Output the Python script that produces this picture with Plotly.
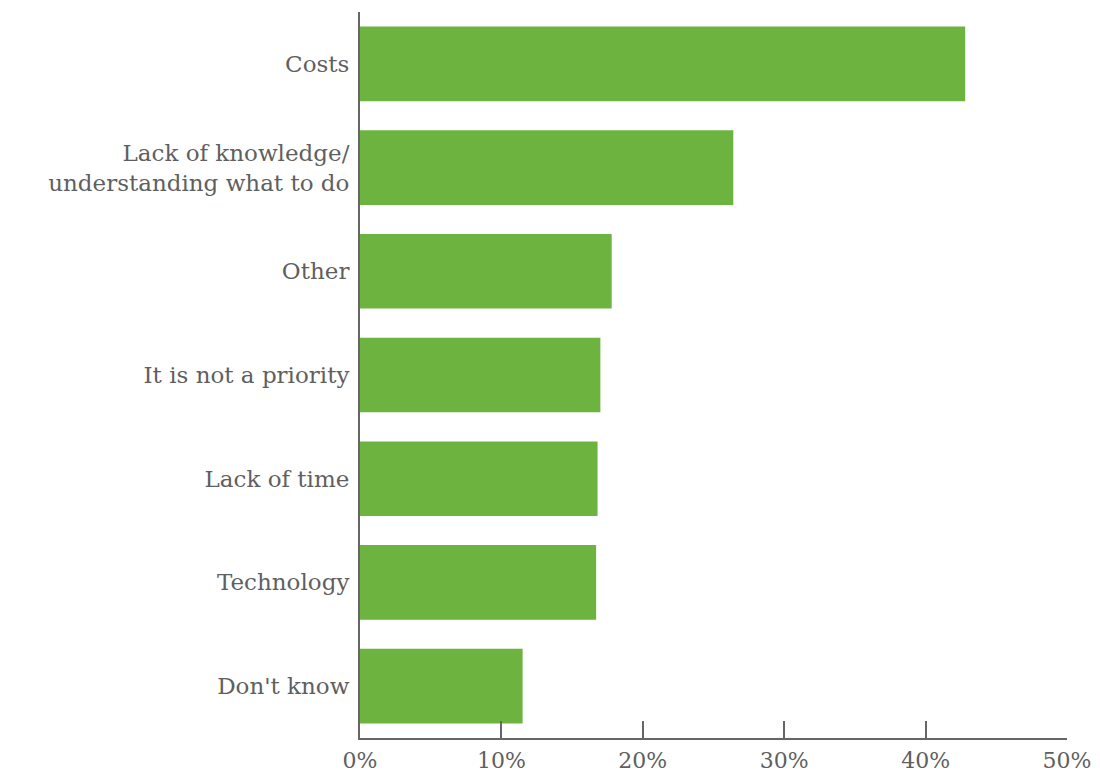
import plotly.graph_objects as go

# Survey responses: barriers, share of respondents
categories = [
    "Costs",
    "Lack of knowledge/<br>understanding what to do",
    "Other",
    "It is not a priority",
    "Lack of time",
    "Technology",
    "Don't know",
]
shares = [0.428, 0.264, 0.178, 0.170, 0.168, 0.167, 0.115]

tick_values = [0, 0.1, 0.2, 0.3, 0.4, 0.5]
tick_labels = ["0%", "10%", "20%", "30%", "40%", "50%"]

axis_color = "#666666"
text_color = "#5f5f5f"
bar_color = "#6db33f"
font_family = "DejaVu Serif, Liberation Serif, serif"

fig = go.Figure(
    go.Bar(
        x=shares,
        y=categories,
        orientation="h",
        marker=dict(color=bar_color, line=dict(width=0)),
        hoverinfo="x+y",
    )
)

fig.update_layout(
    width=1100,
    height=779,
    margin=dict(l=360, r=33, t=12, b=41),
    paper_bgcolor="white",
    plot_bgcolor="white",
    bargap=0.28,
    showlegend=False,
    font=dict(family=font_family, color=text_color, size=23),
)

fig.update_xaxes(
    range=[0, 0.5],
    tickvals=tick_values,
    ticktext=tick_labels,
    ticks="inside",
    ticklen=17,
    tickwidth=2,
    tickcolor=axis_color,
    showline=True,
    linecolor=axis_color,
    linewidth=2,
    showgrid=False,
    zeroline=False,
    automargin=False,
    ticklabelstandoff=2,
    tickfont=dict(size=22, color=text_color),
)

fig.update_yaxes(
    categoryorder="array",
    categoryarray=categories,
    autorange="reversed",
    showline=True,
    linecolor=axis_color,
    linewidth=2,
    ticks="",
    automargin=False,
    ticklabelstandoff=4,
    showgrid=False,
    tickfont=dict(size=23, color=text_color),
)

fig.write_html("out.html")
